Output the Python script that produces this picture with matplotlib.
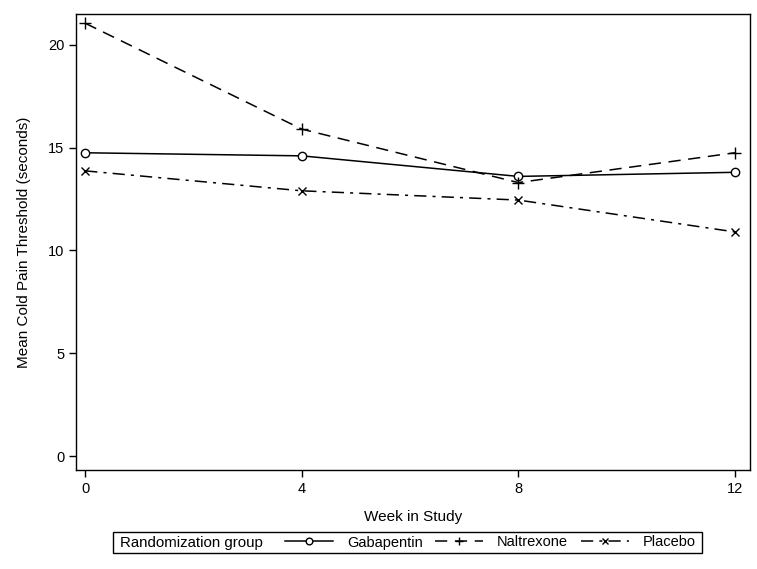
import matplotlib.pyplot as plt
from matplotlib.patches import Rectangle

plt.rcParams['font.family'] = ['Liberation Sans', 'DejaVu Sans']

weeks = [0, 4, 8, 12]
gabapentin = [14.75, 14.6, 13.6, 13.8]
naltrexone = [21.05, 15.9, 13.3, 14.75]
placebo = [13.87, 12.9, 12.45, 10.9]

fig = plt.figure(figsize=(7.57, 5.69), dpi=100)
ax = fig.add_axes([0.1004, 0.174, 0.8904, 0.8014])

ax.plot(weeks, gabapentin, color='black', lw=1.1, ls='-', marker='o',
        mfc='white', mec='black', ms=6, mew=1, label='Gabapentin')
ax.plot(weeks, naltrexone, color='black', lw=1.1, ls=(0, (8, 5)), marker='+',
        ms=8, mew=1, label='Naltrexone')
ax.plot(weeks, placebo, color='black', lw=1.1, ls=(0, (8, 4, 2, 4)), marker='x',
        ms=6, mew=1, label='Placebo')

ax.set_xlim(-0.17, 12.28)
ax.set_ylim(-0.68, 21.5)
ax.set_xticks(weeks)
ax.set_yticks([0, 5, 10, 15, 20])
ax.tick_params(direction='out', length=5, width=1, labelsize=10.5)
for s in ax.spines.values():
    s.set_linewidth(1)

ax.set_xlabel('Week in Study', fontsize=11, labelpad=10)
ax.set_ylabel('Mean Cold Pain Threshold (seconds)', fontsize=11, labelpad=12)

# legend row below the plot: frame + group title + entries
ly = 1 - 542.5 / 569
fig.patches.append(Rectangle((113 / 757, 1 - 553 / 569), 589 / 757, 21 / 569,
                             transform=fig.transFigure, fill=False,
                             edgecolor='black', lw=1))
fig.text(120 / 757, ly, 'Randomization group', fontsize=10.8, va='center', ha='left')
handles, labels = ax.get_legend_handles_labels()
leg = fig.legend(handles, labels, loc='center left',
                 bbox_to_anchor=(285 / 757, ly), ncol=3, frameon=False,
                 fontsize=10.5, handlelength=3.3, handletextpad=0.95,
                 columnspacing=0.85, borderpad=0, borderaxespad=0,
                 markerscale=0.8)

fig.savefig('out.png', dpi=100)
